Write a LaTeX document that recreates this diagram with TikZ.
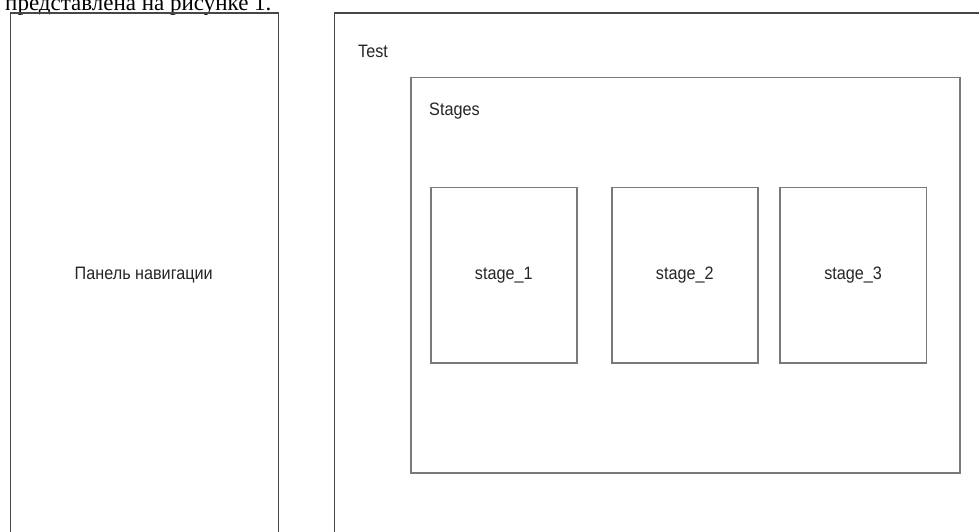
\documentclass[tikz,border=0pt]{standalone}
\usepackage{fontspec}
\setmainfont{Liberation Serif}
\newfontfamily\labfont{Liberation Sans}[FakeStretch=0.9]
\begin{document}
\begin{tikzpicture}[x=1pt,y=-1pt,
  outerbox/.style={draw=black!72, line width=1.4pt, anchor=north west, inner sep=0pt},
  innerbox/.style={draw=black!52, line width=1.5pt, anchor=north west, inner sep=0pt},
  lab/.style={font=\labfont\fontsize{18}{20}\selectfont, text=black!85, inner sep=0pt}]
\useasboundingbox (0,0) rectangle (979,531);
\clip (0,0) rectangle (979,531);
\fill[white] (0,0) rectangle (979,531);
% top text (cut at the top edge, as in the reference)
\node[anchor=base west, inner sep=0pt, font=\fontsize{23}{25}\selectfont] (title) at (5,10) {представлена на рисунке 1.};
% navigation panel
\node[outerbox, minimum width=268.5pt, minimum height=560pt] (nav) at (9.5,12.3) {};
\node[lab] (navlabel) at (143.75,275) {Панель навигации};
% test panel
\node[outerbox, minimum width=700pt, minimum height=560pt] (test) at (334,12.3) {};
\node[lab, anchor=base west] (testlabel) at (358,57) {Test};
% stages
\node[innerbox, minimum width=549pt, minimum height=395.5pt] (stages) at (410,76.5) {};
\node[lab, anchor=base west] (stageslabel) at (429,115) {Stages};
\node[innerbox, minimum width=146pt, minimum height=175.3pt] (s1) at (430,186.7) {};
\node[innerbox, minimum width=146pt, minimum height=175.3pt] (s2) at (611,186.7) {};
\node[innerbox, minimum width=146.7pt, minimum height=175.3pt] (s3) at (779,186.7) {};
\node[lab] (s1label) at (s1.center) {stage\_1};
\node[lab] (s2label) at (s2.center) {stage\_2};
\node[lab] (s3label) at (s3.center) {stage\_3};
\end{tikzpicture}
\end{document}
